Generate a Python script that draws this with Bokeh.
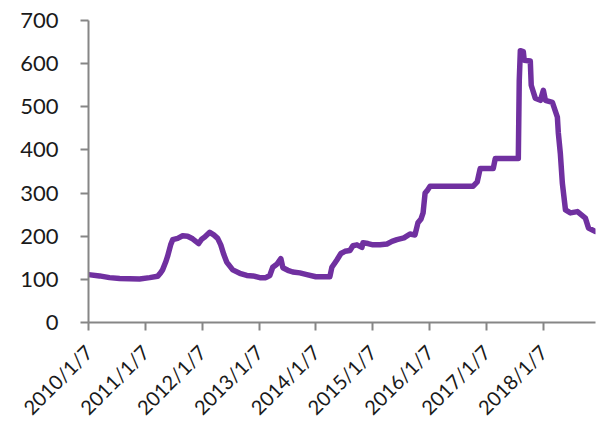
import pandas as pd
from math import pi
from bokeh.plotting import figure
from bokeh.models import FixedTicker, CustomJSTickFormatter, Range1d
from bokeh.embed import file_html
from bokeh.resources import INLINE

dates = [
    "2010-01-07", "2010-03-19", "2010-05-22", "2010-07-26", "2010-12-01", "2011-02-04",
    "2011-03-27", "2011-04-15", "2011-04-28", "2011-05-18", "2011-05-30", "2011-06-19",
    "2011-07-02", "2011-08-03", "2011-09-04", "2011-10-06", "2011-11-07", "2011-12-16",
    "2012-01-04", "2012-01-24", "2012-02-25", "2012-03-22", "2012-04-16", "2012-05-06",
    "2012-05-25", "2012-06-13", "2012-07-22", "2012-09-05", "2012-10-20", "2012-11-28",
    "2013-01-12", "2013-02-19", "2013-03-17", "2013-04-05", "2013-05-01", "2013-05-27",
    "2013-06-09", "2013-07-11", "2013-08-12", "2013-09-26", "2013-11-10", "2014-01-07",
    "2014-04-07", "2014-04-20", "2014-05-09", "2014-05-22", "2014-06-17", "2014-07-13",
    "2014-08-14", "2014-09-02", "2014-09-28", "2014-10-30", "2014-11-06", "2014-12-08",
    "2015-01-09", "2015-02-23", "2015-04-09", "2015-05-11", "2015-06-12", "2015-07-27",
    "2015-09-04", "2015-10-06", "2015-10-25", "2015-11-14", "2015-11-27", "2015-12-10",
    "2015-12-22", "2016-01-11", "2016-10-14", "2016-11-09", "2016-11-28", "2017-02-20",
    "2017-03-05", "2017-07-31", "2017-08-06", "2017-08-13", "2017-09-01", "2017-09-07",
    "2017-10-16", "2017-10-22", "2017-11-17", "2017-12-20", "2018-01-08", "2018-01-21",
    "2018-03-07", "2018-03-26", "2018-04-08", "2018-04-14", "2018-04-27", "2018-05-10",
    "2018-05-30", "2018-07-01", "2018-08-15", "2018-10-05", "2018-10-25", "2018-12-09",
]
values = [
    111, 108, 104, 102, 101, 104,
    107, 115, 122, 140, 153, 180,
    192, 195, 201, 200, 194, 183,
    193, 198, 209, 203, 195, 180,
    158, 140, 122, 114, 109, 108,
    104, 104, 109, 128, 135, 148,
    127, 121, 117, 115, 111, 106,
    106, 128, 138, 145, 160, 165,
    167, 178, 180, 174, 185, 183,
    180, 180, 182, 188, 192, 196,
    205, 203, 231, 240, 254, 300,
    305, 316, 316, 326, 357, 357,
    380, 380, 560, 630, 628, 608,
    606, 550, 520, 515, 538, 515,
    510, 490, 476, 440, 392, 323,
    261, 254, 257, 242, 219, 211,
]
tick_labels = ["2010/1/7", "2011/1/7", "2012/1/7", "2013/1/7", "2014/1/7",
               "2015/1/7", "2016/1/7", "2017/1/7", "2018/1/7"]
y_ticks = [0, 100, 200, 300, 400, 500, 600, 700]

x = pd.to_datetime(dates)
tick_ms = [pd.Timestamp(lbl.replace("/", "-")).value / 1e6 for lbl in tick_labels]

p = figure(width=598, height=430, x_axis_type="datetime",
           output_backend="svg", toolbar_location=None,
           min_border_left=88, min_border_top=20, min_border_bottom=107, min_border_right=3)
p.x_range = Range1d(pd.Timestamp(dates[0]), pd.Timestamp(dates[-1]))
p.y_range = Range1d(0, 700)

p.line(x, values, line_color="#7030A0", line_width=5.5, line_join="round", line_cap="round")

p.grid.visible = False
p.outline_line_color = None

for ax in (p.xaxis[0], p.yaxis[0]):
    ax.axis_line_color = "#868686"
    ax.axis_line_width = 2
    ax.major_tick_line_color = "#868686"
    ax.major_tick_line_width = 2
    ax.major_tick_out = 8
    ax.major_tick_in = 0
    ax.minor_tick_line_color = None
    ax.major_label_text_font = "Lato"
    ax.major_label_text_color = "#1a1a1a"

p.yaxis[0].major_label_text_font_size = "22px"
p.yaxis[0].ticker = FixedTicker(ticks=y_ticks)
p.yaxis[0].major_label_standoff = 22

p.xaxis[0].major_label_text_font_size = "20px"
p.xaxis[0].ticker = FixedTicker(ticks=tick_ms)
p.xaxis[0].formatter = CustomJSTickFormatter(
    args=dict(labels=tick_labels, tick_vals=tick_ms),
    code="const i = tick_vals.indexOf(tick); return i >= 0 ? labels[i] : '';")
p.xaxis[0].major_label_orientation = pi / 4
p.xaxis[0].major_label_standoff = 18

open("out.html", "w").write(file_html(p, INLINE))
